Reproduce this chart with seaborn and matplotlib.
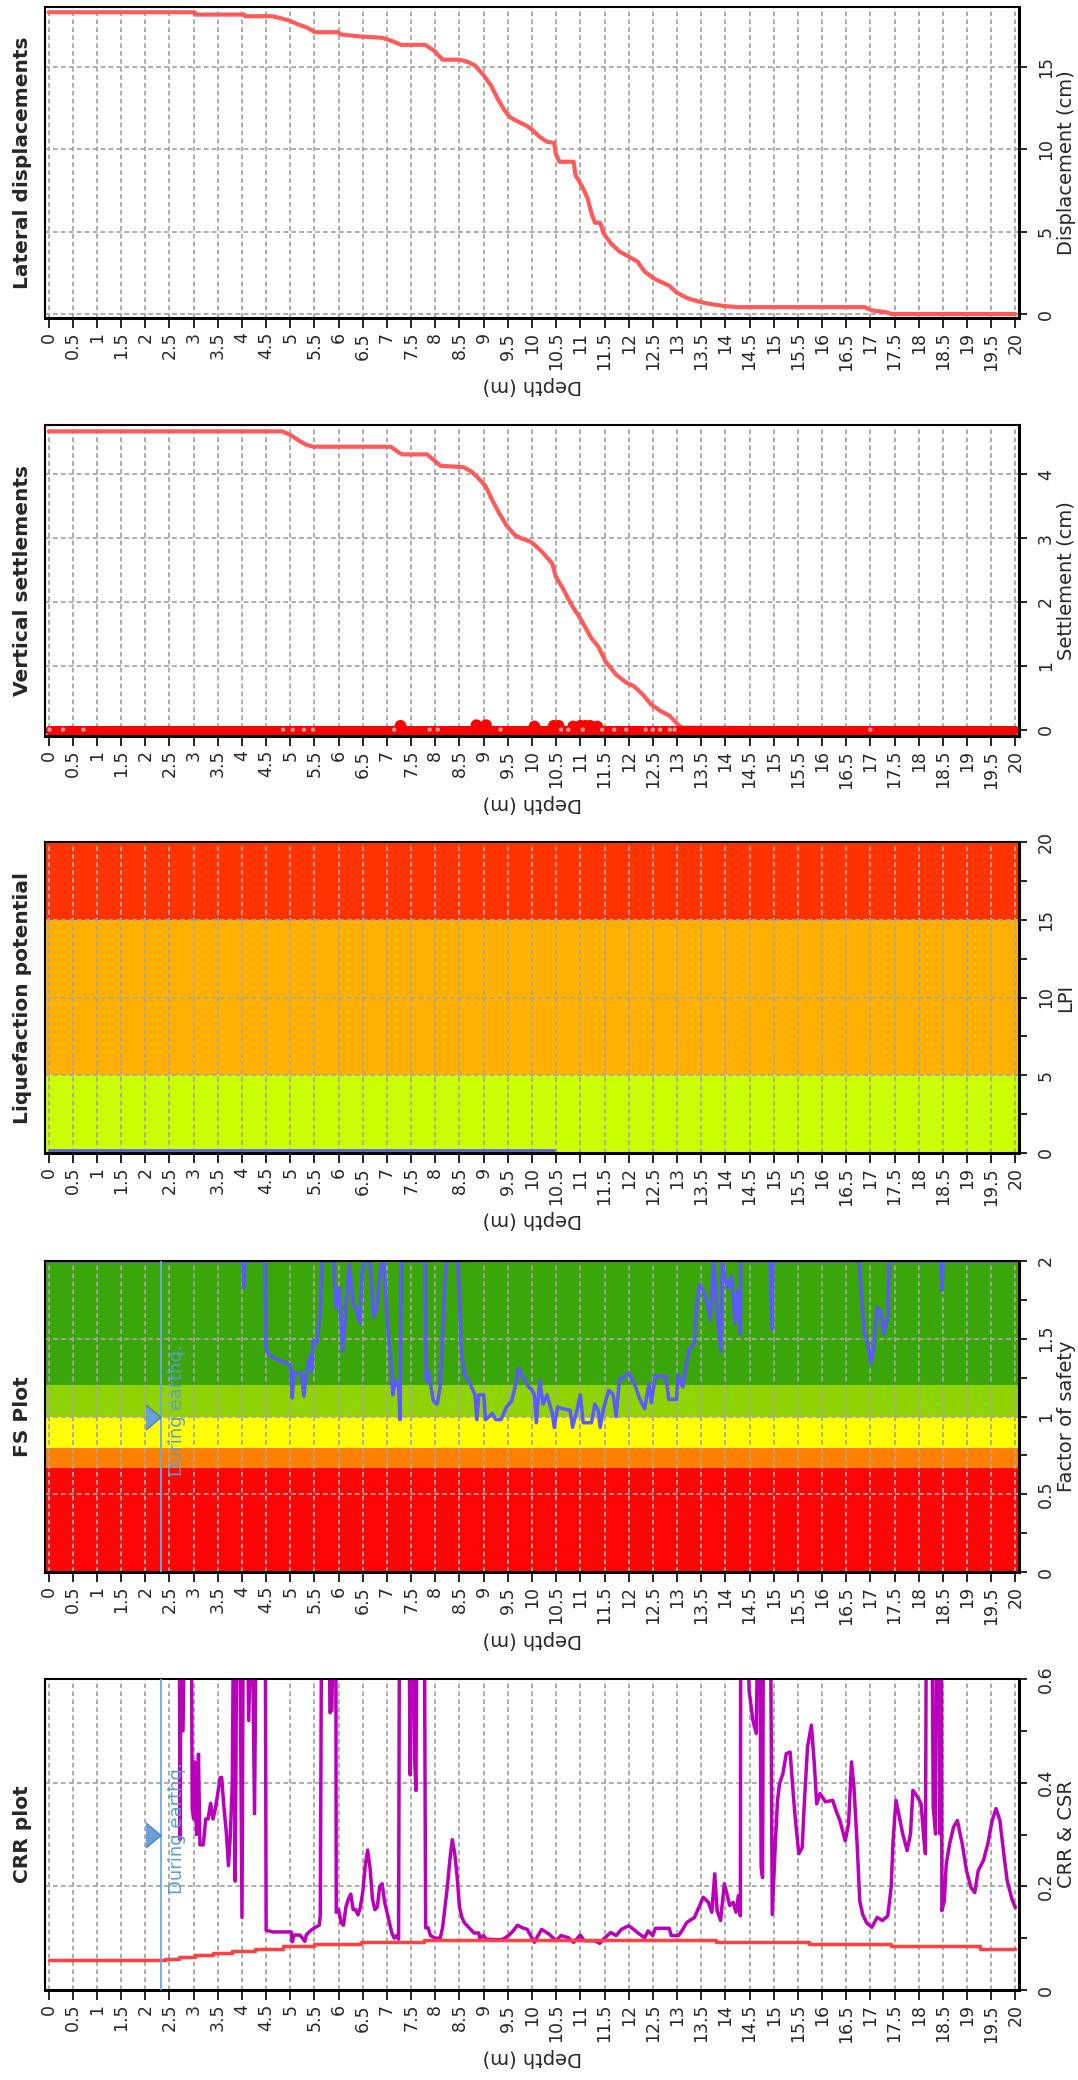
import matplotlib
matplotlib.use("Agg")
import matplotlib.pyplot as plt
import seaborn as sns
from matplotlib.ticker import FixedLocator, FuncFormatter

# ---------------- data (depth in m) ----------------
DEPTH_TICKS = [i * 0.5 for i in range(41)]

# lateral displacement (cm)
disp_depth = [0.0, 3.02, 3.03, 4.05, 4.06, 4.62, 4.77, 4.98, 5.16, 5.33, 5.51, 5.98, 6.05, 6.44,
              6.90, 7.11, 7.29, 7.79, 7.97, 8.15, 8.50, 8.68, 8.82, 9.00, 9.15, 9.29, 9.43, 9.54,
              9.68, 9.89, 10.00, 10.16, 10.31, 10.46, 10.49, 10.57, 10.86, 10.90, 11.04, 11.15,
              11.23, 11.30, 11.41, 11.48, 11.63, 11.81, 12.00, 12.18, 12.33, 12.51, 12.69, 12.84,
              12.99, 13.21, 13.43, 13.65, 13.94, 14.24, 16.88, 17.03, 17.32, 17.43, 20.0]
disp_cm = [18.33, 18.33, 18.19, 18.19, 18.09, 18.09, 17.99, 17.83, 17.59, 17.42, 17.12, 17.12,
           16.98, 16.86, 16.78, 16.58, 16.35, 16.35, 16.01, 15.45, 15.45, 15.30, 15.10, 14.50,
           13.89, 13.08, 12.38, 11.97, 11.73, 11.43, 11.20, 10.76, 10.46, 10.40, 9.75, 9.25,
           9.25, 8.44, 7.73, 7.03, 6.12, 5.55, 5.55, 4.91, 4.30, 3.80, 3.49, 3.19, 2.58, 2.18,
           1.92, 1.72, 1.31, 0.97, 0.77, 0.63, 0.50, 0.42, 0.42, 0.22, 0.12, 0.0, 0.0]

# vertical settlement (cm)
settle_depth = [0.0, 4.84, 5.01, 5.19, 5.33, 5.48, 7.08, 7.26, 7.33, 7.83, 7.97, 8.11, 8.58, 8.75,
                8.90, 9.04, 9.18, 9.32, 9.47, 9.64, 9.76, 9.98, 10.20, 10.42, 10.49, 10.64, 10.82,
                11.00, 11.23, 11.37, 11.52, 11.74, 11.96, 12.11, 12.29, 12.47, 12.66, 12.84, 13.02,
                13.10, 20.0]
settle_cm = [4.67, 4.67, 4.61, 4.52, 4.46, 4.43, 4.43, 4.33, 4.31, 4.31, 4.22, 4.13, 4.11, 4.04,
             3.93, 3.81, 3.59, 3.39, 3.20, 3.05, 3.00, 2.94, 2.79, 2.60, 2.40, 2.21, 1.95, 1.74,
             1.43, 1.30, 1.07, 0.86, 0.73, 0.68, 0.55, 0.39, 0.29, 0.22, 0.08, 0.03, 0.0]
# per-layer settlement markers along the base
layer_band_depth = [0.0, 20.0]
layer_band_cm = [0.0, 0.0]
layer_pts_depth = [7.28, 8.85, 9.05, 10.05, 10.45, 10.55, 10.85, 11.0, 11.1, 11.2, 11.35]
layer_pts_cm = [0.06, 0.07, 0.07, 0.05, 0.06, 0.06, 0.05, 0.06, 0.06, 0.06, 0.05]
layer_dot_depth = [0.02, 0.3, 0.72, 4.85, 5.05, 5.28, 5.47, 7.15, 7.88, 8.05, 9.35, 10.6, 10.75,
                   11.05, 11.45, 11.7, 11.95, 12.35, 12.5, 12.65, 12.85, 12.95, 17.0]

# liquefaction potential index
lpi_depth = [0.0, 10.45]
lpi_value = [0.2, 0.2]
LPI_BANDS = [(0, 5, "#ccff00"), (5, 15, "#ffb000"), (15, 20, "#ff3300")]

# factor of safety
FS_BANDS = [(0, 0.667, "#ff0505"), (0.667, 0.8, "#ff8000"), (0.8, 1.0, "#ffff00"),
            (1.0, 1.2, "#8fd400"), (1.2, 2.0, "#3aa60a")]
fs_depth = [0.00, 4.02, 4.04, 4.06, 4.48, 4.50, 4.55, 4.69, 4.87, 5.01, 5.04, 5.08, 5.23, 5.28,
            5.33, 5.41, 5.44, 5.48, 5.55, 5.62, 5.66, 5.90, 5.94, 6.01, 6.08, 6.15, 6.22, 6.30,
            6.37, 6.44, 6.49, 6.55, 6.65, 6.72, 6.79, 6.87, 6.94, 7.01, 7.08, 7.12, 7.17, 7.24,
            7.27, 7.30, 7.79, 7.81, 7.86, 7.91, 7.96, 8.04, 8.10, 8.15, 8.20, 8.23, 8.47, 8.54,
            8.61, 8.72, 8.82, 8.86, 8.90, 9.00, 9.04, 9.18, 9.25, 9.36, 9.47, 9.58, 9.65, 9.72,
            9.82, 9.93, 10.00, 10.05, 10.09, 10.16, 10.23, 10.31, 10.42, 10.46, 10.53, 10.64,
            10.79, 10.84, 10.93, 11.00, 11.06, 11.23, 11.30, 11.37, 11.41, 11.48, 11.59, 11.68,
            11.74, 11.81, 11.89, 12.00, 12.11, 12.22, 12.33, 12.42, 12.47, 12.55, 12.77, 12.83,
            12.99, 13.02, 13.12, 13.17, 13.25, 13.36, 13.39, 13.47, 13.54, 13.61, 13.69, 13.76,
            13.81, 13.87, 13.91, 13.94, 14.00, 14.05, 14.13, 14.20, 14.25, 14.31, 14.32, 14.93,
            14.96, 14.99, 16.77, 16.82, 16.88, 16.95, 17.01, 17.06, 17.14, 17.21, 17.28, 17.36,
            17.39, 18.46, 18.48, 18.51, 20.0]
fs_value = [2.0, 2.0, 1.83, 2.0, 2.0, 1.43, 1.40, 1.37, 1.35, 1.33, 1.12, 1.28, 1.28, 1.13,
            1.27, 1.39, 1.29, 1.49, 1.47, 1.68, 2.0, 2.0, 1.70, 1.83, 1.42, 1.70, 1.98, 1.72,
            1.68, 1.60, 1.94, 2.0, 2.0, 1.64, 1.70, 1.96, 2.0, 1.60, 1.36, 1.14, 1.23, 1.19,
            0.98, 2.0, 2.0, 1.23, 1.29, 1.19, 1.10, 1.08, 1.19, 1.51, 1.88, 2.0, 2.0, 1.40,
            1.27, 1.21, 1.14, 0.98, 1.14, 1.14, 0.98, 1.02, 0.98, 0.98, 1.06, 1.10, 1.19, 1.31,
            1.25, 1.19, 1.17, 1.14, 0.96, 1.23, 1.08, 1.14, 1.02, 0.93, 1.06, 1.05,
            1.04, 0.93, 1.04, 1.14, 0.96, 0.96, 1.08, 1.04, 0.93, 1.05, 1.17, 1.14,
            1.00, 1.24, 1.25, 1.28, 1.22, 1.12, 1.05, 1.21, 1.09, 1.26, 1.26, 1.11,
            1.11, 1.27, 1.19, 1.29, 1.43, 1.47, 1.67, 1.85, 1.81, 1.75, 1.62, 2.0,
            1.75, 1.55, 1.42, 2.0, 1.88, 1.83, 1.90, 1.60, 1.81, 1.53, 2.0, 2.0,
            1.56, 2.0, 2.0, 1.75, 1.53, 1.47, 1.34, 1.42, 1.70, 1.68, 1.53, 1.64,
            2.0, 2.0, 1.81, 2.0, 2.0]

# cyclic stress ratio (step line)
csr_depth = [0.0, 2.41, 2.70, 3.03, 3.40, 3.80, 4.27, 4.84, 5.50, 6.46, 7.76, 13.80, 15.74,
             17.43, 19.27, 20.0]
csr_value = [0.058, 0.060, 0.064, 0.068, 0.072, 0.076, 0.080, 0.084, 0.088, 0.092, 0.097,
             0.093, 0.088, 0.084, 0.080, 0.080]

# cyclic resistance ratio (values above 0.6 run off the chart)
crr_depth = [2.70, 2.72, 2.74, 2.78, 2.82, 2.95, 2.97, 3.00, 3.02, 3.06, 3.10, 3.13, 3.20, 3.25,
             3.30, 3.35, 3.40, 3.45, 3.50, 3.55, 3.58, 3.62, 3.68, 3.72, 3.76, 3.80, 3.83, 3.86,
             3.90, 3.95, 4.00, 4.03, 4.10, 4.14, 4.20, 4.26, 4.30, 4.48, 4.50, 4.65, 5.02, 5.04,
             5.08, 5.20, 5.30, 5.33, 5.40, 5.50, 5.60, 5.62, 5.65, 5.80, 5.82, 5.86, 5.90, 5.94,
             5.95, 6.00, 6.05, 6.10, 6.15, 6.20, 6.25, 6.30, 6.35, 6.40, 6.45, 6.50, 6.55, 6.60,
             6.65, 6.70, 6.75, 6.80, 6.85, 6.90, 6.95, 7.00, 7.05, 7.10, 7.15, 7.20, 7.24, 7.26,
             7.45, 7.48, 7.52, 7.55, 7.57, 7.60, 7.62, 7.77, 7.80, 7.85, 7.90, 8.00, 8.10, 8.15,
             8.20, 8.25, 8.30, 8.35, 8.40, 8.45, 8.50, 8.55, 8.60, 8.70, 8.80, 8.90, 8.92, 9.00,
             9.05, 9.30, 9.40, 9.50, 9.60, 9.70, 9.80, 9.90, 10.05, 10.10, 10.20, 10.35, 10.50,
             10.60, 10.75, 10.86, 11.00, 11.08, 11.30, 11.40, 11.50, 11.63, 11.74, 11.85, 12.00,
             12.10, 12.22, 12.33, 12.40, 12.50, 12.55, 12.84, 12.88, 13.03, 13.10, 13.20, 13.36,
             13.47, 13.54, 13.65, 13.72, 13.78, 13.83, 13.90, 13.98, 14.09, 14.16, 14.22, 14.27,
             14.31, 14.32, 14.46, 14.49, 14.57, 14.64, 14.68, 14.71, 14.74, 14.77, 14.79, 14.93,
             14.97, 15.00, 15.04, 15.08, 15.12, 15.19, 15.26, 15.34, 15.41, 15.45, 15.52, 15.59,
             15.63, 15.70, 15.78, 15.84, 15.89, 15.96, 16.07, 16.22, 16.29, 16.37, 16.48, 16.55,
             16.61, 16.66, 16.73, 16.78, 16.84, 16.92, 17.03, 17.14, 17.25, 17.36, 17.43, 17.47,
             17.53, 17.60, 17.67, 17.76, 17.83, 17.88, 17.98, 18.05, 18.11, 18.14, 18.16, 18.27,
             18.30, 18.35, 18.37, 18.42, 18.44, 18.47, 18.48, 18.53, 18.57, 18.64, 18.72, 18.80,
             18.90, 18.99, 19.08, 19.16, 19.23, 19.34, 19.43, 19.52, 19.60, 19.68, 19.76, 19.83,
             19.93, 20.00]
crr_value = [0.80, 0.29, 0.80, 0.50, 0.80, 0.80, 0.35, 0.33, 0.44, 0.30, 0.455, 0.28, 0.28, 0.33,
             0.33, 0.36, 0.33, 0.35, 0.38, 0.41, 0.41, 0.36, 0.30, 0.24, 0.30, 0.40, 0.80, 0.21,
             0.80, 0.80, 0.14, 0.80, 0.80, 0.52, 0.80, 0.34, 0.80, 0.80, 0.115, 0.112, 0.112, 0.093,
             0.106, 0.106, 0.094, 0.106, 0.113, 0.120, 0.125, 0.145, 0.80, 0.80, 0.535, 0.54, 0.80, 0.80,
             0.15, 0.155, 0.13, 0.125, 0.16, 0.175, 0.185, 0.155, 0.155, 0.145, 0.16, 0.19, 0.24, 0.27,
             0.235, 0.175, 0.155, 0.16, 0.20, 0.205, 0.17, 0.15, 0.13, 0.11, 0.10, 0.105, 0.098, 0.80,
             0.80, 0.415, 0.80, 0.80, 0.45, 0.385, 0.80, 0.80, 0.12, 0.12, 0.105, 0.10, 0.10, 0.12,
             0.16, 0.20, 0.25, 0.29, 0.265, 0.22, 0.16, 0.14, 0.13, 0.12, 0.11, 0.11, 0.10, 0.105,
             0.098, 0.097, 0.098, 0.104, 0.113, 0.125, 0.12, 0.117, 0.092, 0.101, 0.117, 0.108, 0.095,
             0.105, 0.101, 0.092, 0.106, 0.095, 0.095, 0.090, 0.100, 0.111, 0.105, 0.117, 0.124,
             0.117, 0.108, 0.101, 0.114, 0.105, 0.119, 0.119, 0.105, 0.105, 0.114, 0.130, 0.140,
             0.163, 0.179, 0.169, 0.150, 0.224, 0.153, 0.134, 0.205, 0.163, 0.169, 0.150, 0.182,
             0.143, 0.80, 0.80, 0.579, 0.520, 0.495, 0.80, 0.80, 0.237, 0.217, 0.80, 0.80,
             0.146, 0.211, 0.295, 0.366, 0.398, 0.417, 0.456, 0.459, 0.372, 0.327, 0.263, 0.275,
             0.353, 0.469, 0.511, 0.437, 0.359, 0.379, 0.363, 0.366, 0.346, 0.327, 0.288, 0.321,
             0.440, 0.392, 0.275, 0.172, 0.146, 0.130, 0.121, 0.140, 0.134, 0.143, 0.198, 0.288,
             0.366, 0.334, 0.301, 0.269, 0.301, 0.385, 0.372, 0.359, 0.288, 0.263, 0.80, 0.80,
             0.353, 0.301, 0.80, 0.80, 0.301, 0.80, 0.153, 0.172, 0.243, 0.282, 0.314, 0.327,
             0.282, 0.230, 0.198, 0.188, 0.230, 0.250, 0.282, 0.327, 0.350, 0.327, 0.263, 0.211,
             0.175, 0.159]

GWT_DEPTH = 2.33  # water table during earthquake

# ---------------- figure ----------------
sns.set_style("white")
plt.rcParams["font.family"] = ["DejaVu Sans"]
plt.rcParams["ytick.alignment"] = "center"

W, H = 1078, 2080
fig = plt.figure(figsize=(W / 100, H / 100), dpi=100)
AX_L, AX_R, PANEL_H = 45, 1019, 311
depth_fmt = FuncFormatter(lambda v, _: f"{v:g}")


def make_axes(top_px):
    return fig.add_axes([AX_L / W, 1 - (top_px + PANEL_H) / H, (AX_R - AX_L) / W, PANEL_H / H])


def style(ax, top_px, title, label, ylim, major, minor):
    ax.set_xlim(-0.075, 20.075)
    ax.set_ylim(*ylim)
    ax.set_xlabel("")
    ax.set_ylabel("")
    ax.xaxis.set_major_locator(FixedLocator(DEPTH_TICKS))
    ax.xaxis.set_major_formatter(depth_fmt)
    ax.yaxis.set_major_locator(FixedLocator(major))
    ax.yaxis.set_minor_locator(FixedLocator(minor))
    ax.yaxis.set_major_formatter(depth_fmt)
    ax.tick_params(axis="x", which="major", direction="out", length=7, width=1.4,
                   labelsize=12.5, labelrotation=90, pad=3, bottom=True, top=False)
    ax.tick_params(axis="y", which="both", direction="out", length=6, width=1.4,
                   labelsize=12.5, labelrotation=90, pad=7, left=False, right=True,
                   labelleft=False, labelright=True)
    ax.grid(True, which="major", color="#a6a6a6", ls=(0, (2.6, 1.8)), lw=1.3)
    ax.set_axisbelow("line")
    for side, lw in (("top", 1.5), ("left", 1.5), ("bottom", 2.2), ("right", 2.2)):
        ax.spines[side].set_visible(True)
        ax.spines[side].set_color("black")
        ax.spines[side].set_linewidth(lw)
    mid = 1 - (top_px + PANEL_H / 2) / H
    fig.text(23 / W, mid, title, rotation=90, ha="center", va="center",
             fontsize=14.5, fontweight="bold")
    fig.text(1066 / W, mid, label, rotation=90, ha="center", va="center", fontsize=14)
    fig.text((AX_L + AX_R) / 2 / W, 1 - (top_px + PANEL_H + 67) / H, "Depth (m)",
             rotation=180, ha="center", va="center", fontsize=14)


def quake_marker(ax, y, text_y):
    ax.axvline(GWT_DEPTH, color="#6fa8dc", lw=1.3, zorder=3)
    ax.plot([GWT_DEPTH - 0.165], [y], ls="none", marker=[(-0.6, -1), (0.6, 0), (-0.6, 1)],
            ms=18, mfc="#6b9fd6", mec="#4a80c4", mew=1, zorder=5)
    ax.text(2.66, text_y, "During earthq.", rotation=90, ha="center", va="bottom",
            color="#5b9bd5", fontsize=13, family=["Liberation Sans Narrow", "DejaVu Sans"],
            zorder=5)


tops = [7, 425, 842, 1261, 1679]

# lateral displacements
ax = make_axes(tops[0])
sns.lineplot(x=disp_depth, y=disp_cm, ax=ax, color="#ff5a5a", lw=3, sort=False, estimator=None)
style(ax, tops[0], "Lateral displacements", "Displacement (cm)", (-0.24, 18.65),
      [0, 5, 10, 15], [])

# vertical settlements
ax = make_axes(tops[1])
sns.lineplot(x=settle_depth, y=settle_cm, ax=ax, color="#ff5a5a", lw=3, sort=False, estimator=None)
sns.lineplot(x=layer_band_depth, y=layer_band_cm, ax=ax, color="#ff0000", lw=6.5, sort=False,
             estimator=None)
sns.scatterplot(x=layer_pts_depth, y=layer_pts_cm, ax=ax, color="#ff0000", s=70, edgecolor="none",
                zorder=4)
sns.scatterplot(x=layer_dot_depth, y=[0.0] * len(layer_dot_depth), ax=ax, color="#ff9a9a", s=10,
                edgecolor="none", zorder=5)
style(ax, tops[1], "Vertical settlements", "Settlement (cm)", (-0.1, 4.77), [0, 1, 2, 3, 4], [])

# liquefaction potential
ax = make_axes(tops[2])
for lo, hi, c in LPI_BANDS:
    ax.axhspan(lo, hi, color=c, lw=0, zorder=0.5)
sns.lineplot(x=lpi_depth, y=lpi_value, ax=ax, color="#5a5aff", lw=2, sort=False, estimator=None)
style(ax, tops[2], "Liquefaction potential", "LPI", (0, 20), [0, 5, 10, 15, 20],
      [2.5, 7.5, 12.5, 17.5])

# factor of safety
ax = make_axes(tops[3])
for lo, hi, c in FS_BANDS:
    ax.axhspan(lo, hi, color=c, lw=0, zorder=0.5)
sns.lineplot(x=fs_depth, y=fs_value, ax=ax, color="#5a5aff", lw=2.5, sort=False, estimator=None)
quake_marker(ax, 1.0, 0.617)
style(ax, tops[3], "FS Plot", "Factor of safety", (0, 2), [0, 0.5, 1, 1.5, 2],
      [0.25, 0.75, 1.25, 1.75])

# CRR / CSR
ax = make_axes(tops[4])
sns.lineplot(x=csr_depth, y=csr_value, ax=ax, color="#ff4040", lw=2.5, sort=False, estimator=None,
             drawstyle="steps-post", zorder=3)
sns.lineplot(x=crr_depth, y=crr_value, ax=ax, color="#bb00bb", lw=2.5, sort=False, estimator=None)
quake_marker(ax, 0.3, 0.185)
style(ax, tops[4], "CRR plot", "CRR & CSR", (0, 0.6), [0, 0.2, 0.4, 0.6], [0.1, 0.3, 0.5])

fig.savefig("out.png", dpi=100)
